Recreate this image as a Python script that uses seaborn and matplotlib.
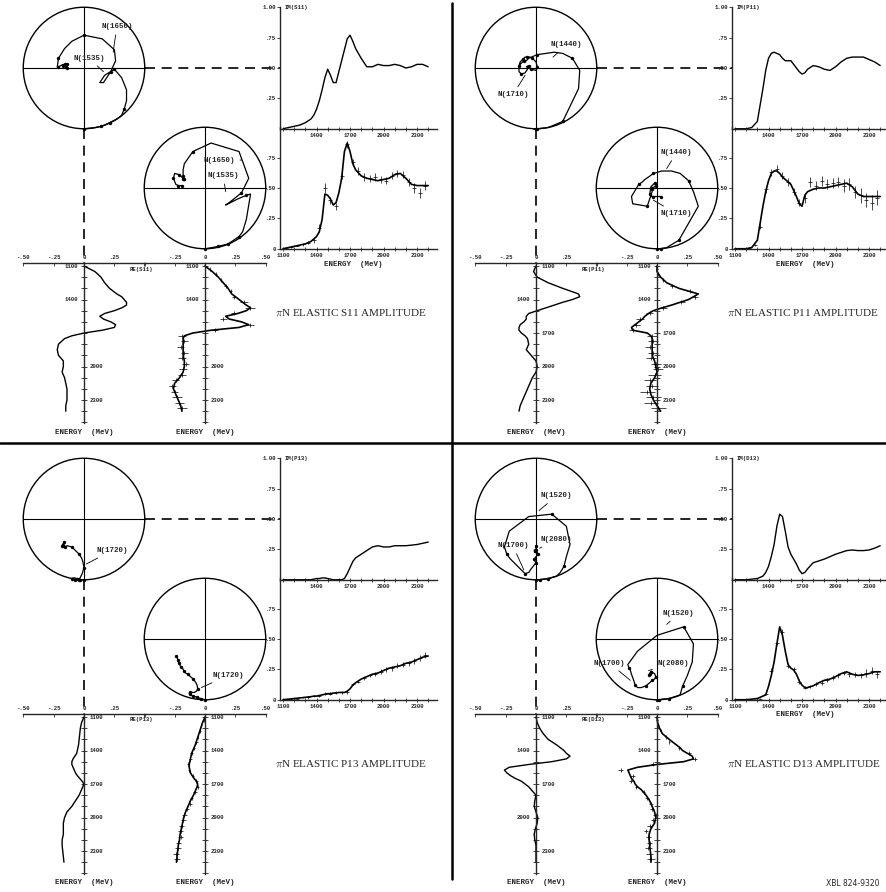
#!/usr/bin/env python3

import numpy as np
import seaborn as sns
import matplotlib.pyplot as plt
from matplotlib.patches import Circle
from matplotlib.lines import Line2D

# energy grid of the smooth amplitude curves (MeV)
energy = [1100, 1150, 1200, 1250, 1300, 1350,
          1375, 1400, 1425, 1450, 1475, 1500, 1525, 1550,
          1575, 1600, 1625, 1650, 1675, 1700, 1725, 1750,
          1800, 1850, 1900, 1950, 2000, 2050, 2100, 2150,
          2200, 2250, 2300, 2350, 2400]
# energies of the plotted single-energy points
energy_data = [1125, 1175, 1225, 1275, 1325, 1375, 1425, 1475, 1525,
               1575, 1625, 1675, 1725, 1775, 1825, 1875, 1925, 1975,
               2025, 2075, 2125, 2175, 2225, 2275, 2325, 2375]

# ---- S11 ----
s11_im_fit = [0.00, 0.01, 0.02, 0.03, 0.05, 0.08,
              0.11, 0.16, 0.23, 0.32, 0.42, 0.49, 0.44, 0.38, 0.38, 0.47,
              0.56, 0.65, 0.74, 0.77, 0.72, 0.66,
              0.58, 0.51, 0.51, 0.53, 0.52, 0.52, 0.53, 0.52, 0.50, 0.51,
              0.53, 0.53, 0.51]
s11_re_fit = [0.00, 0.09, 0.14, 0.17, 0.21, 0.27,
              0.31, 0.33, 0.35, 0.35, 0.31, 0.25, 0.17, 0.13, 0.16, 0.22,
              0.26, 0.25, 0.15, 0.00, -0.10, -0.16,
              -0.21, -0.22, -0.21, -0.17, -0.17, -0.18, -0.16, -0.15, -0.14,
              -0.14, -0.14, -0.15, -0.15]
s11_im_sol = [0.00, 0.01, 0.02, 0.03, 0.04, 0.06,
              0.08, 0.10, 0.14, 0.24, 0.45, 0.44, 0.41, 0.36, 0.38, 0.46,
              0.58, 0.80, 0.87, 0.80, 0.70, 0.65,
              0.60, 0.58, 0.57, 0.56, 0.57, 0.58, 0.61, 0.62, 0.58, 0.53,
              0.52, 0.52, 0.52]
s11_re_sol = [0.00, 0.06, 0.11, 0.15, 0.19, 0.22,
              0.25, 0.28, 0.31, 0.34, 0.375, 0.34, 0.27, 0.17, 0.20, 0.30,
              0.36, 0.28, 0.05, -0.10, -0.17, -0.18,
              -0.18, -0.18, -0.18, -0.17, -0.17, -0.18, -0.21, -0.25, -0.26,
              -0.24, -0.22, -0.20, -0.19]
s11_im_data = [0.005, 0.015, 0.025, 0.035, 0.05, 0.07, 0.17, 0.50, 0.40,
               0.35, 0.60, 0.86, 0.71, 0.64, 0.59, 0.58, 0.59, 0.57,
               0.56, 0.60, 0.62, 0.61, 0.55, 0.50, 0.46, 0.52]
s11_re_data = [0.04, 0.09, 0.13, 0.17, 0.21, 0.24, 0.32, 0.37, 0.24,
               0.15, 0.37, 0.08, -0.19, -0.17, -0.20, -0.17, -0.19, -0.16,
               -0.18, -0.19, -0.24, -0.27, -0.25, -0.23, -0.21, -0.19]
s11_err = [0.005, 0.005, 0.005, 0.01, 0.01, 0.02, 0.03, 0.04, 0.03,
           0.03, 0.03, 0.03, 0.03, 0.03, 0.03, 0.03, 0.03, 0.03,
           0.03, 0.03, 0.03, 0.03, 0.03, 0.04, 0.04, 0.04]

# ---- P11 ----
p11_im_fit = [0.00, 0.00, 0.00, 0.01, 0.06, 0.33,
              0.48, 0.58, 0.62, 0.63, 0.62, 0.61, 0.58, 0.56, 0.56, 0.56,
              0.53, 0.50, 0.47, 0.45, 0.46, 0.49,
              0.52, 0.51, 0.49, 0.48, 0.51, 0.55, 0.58, 0.59, 0.59, 0.59,
              0.57, 0.55, 0.52]
p11_re_fit = [0.00, -0.02, 0.01, 0.10, 0.22, 0.35,
              0.36, 0.30, 0.22, 0.15, 0.08, 0.01, -0.06, -0.08, -0.08, -0.10,
              -0.13, -0.14, -0.14, -0.12, -0.09, -0.07,
              -0.06, -0.08, -0.04, 0.00, 0.01, 0.00, -0.03, -0.05, -0.07,
              -0.09, -0.11, -0.13, -0.14]
p11_im_sol = [0.00, 0.00, 0.00, 0.01, 0.07, 0.35,
              0.47, 0.56, 0.62, 0.64, 0.64, 0.62, 0.59, 0.57, 0.55, 0.53,
              0.48, 0.43, 0.37, 0.35, 0.44, 0.47,
              0.49, 0.50, 0.50, 0.51, 0.52, 0.53, 0.54, 0.51, 0.45, 0.43,
              0.43, 0.43, 0.43]
p11_re_sol = [0.00, 0.00, 0.03, 0.08, 0.18, 0.34,
              0.30, 0.26, 0.19, 0.12, 0.04, -0.03, -0.07, -0.10, -0.12, -0.15,
              -0.18, -0.21, -0.20, -0.08, -0.05, -0.04,
              -0.04, -0.04, -0.04, -0.02, -0.01, 0.00, -0.02, -0.05, -0.06,
              -0.05, -0.03, 0.00, 0.03]
p11_im_data = [0.00, 0.00, 0.005, 0.03, 0.18, 0.49, 0.63, 0.66, 0.60,
               0.55, 0.47, 0.38, 0.42, 0.55, 0.52, 0.56, 0.53, 0.54,
               0.55, 0.52, 0.53, 0.47, 0.44, 0.40, 0.38, 0.42]
p11_re_data = [0.00, 0.01, 0.05, 0.12, 0.27, 0.31, 0.20, 0.05, -0.06,
               -0.14, -0.17, -0.20, -0.04, -0.03, -0.06, -0.03, -0.05, -0.01,
               0.01, -0.02, -0.06, -0.04, -0.08, -0.03, -0.05, 0.01]
p11_err = [0.005, 0.005, 0.005, 0.01, 0.02, 0.03, 0.03, 0.03, 0.03,
           0.03, 0.03, 0.03, 0.04, 0.04, 0.04, 0.04, 0.04, 0.04,
           0.04, 0.05, 0.05, 0.05, 0.06, 0.06, 0.06, 0.06]

# ---- P13 ----
p13_im_fit = [0.00, 0.00, 0.00, 0.00, 0.00, 0.00,
              0.005, 0.01, 0.01, 0.015, 0.015, 0.01, 0.005, 0.00, 0.00, 0.00,
              0.00, 0.01, 0.05, 0.10, 0.15, 0.18,
              0.21, 0.24, 0.27, 0.28, 0.27, 0.27, 0.28, 0.28, 0.28, 0.285,
              0.29, 0.30, 0.31]
p13_re_fit = [0.00, -0.02, -0.03, -0.035, -0.04, -0.045,
              -0.05, -0.055, -0.06, -0.075, -0.09, -0.10, -0.10, -0.09, -0.08,
              -0.07, -0.055, -0.035, -0.015, 0.00, -0.01, -0.02,
              -0.04, -0.07, -0.10, -0.14, -0.16, -0.17, -0.17, -0.17, -0.18,
              -0.18, -0.175, -0.17, -0.165]
p13_im_sol = [0.00, 0.005, 0.01, 0.015, 0.02, 0.025,
              0.03, 0.03, 0.035, 0.04, 0.045, 0.05, 0.05, 0.055, 0.055, 0.06,
              0.06, 0.06, 0.07, 0.09, 0.12, 0.14,
              0.17, 0.19, 0.21, 0.22, 0.24, 0.26, 0.27, 0.28, 0.30, 0.31,
              0.33, 0.35, 0.36]
p13_re_sol = [0.00, -0.02, -0.035, -0.05, -0.065, -0.08,
              -0.09, -0.10, -0.11, -0.115, -0.12, -0.125, -0.13, -0.13, -0.125,
              -0.12, -0.105, -0.09, -0.07, -0.06, -0.065, -0.075,
              -0.095, -0.12, -0.14, -0.16, -0.175, -0.185, -0.195, -0.205,
              -0.21, -0.22, -0.225, -0.23, -0.235]
p13_im_data = [0.00, 0.01, 0.01, 0.02, 0.02, 0.03, 0.03, 0.05, 0.05,
               0.06, 0.06, 0.06, 0.13, 0.15, 0.18, 0.20, 0.21, 0.23,
               0.25, 0.26, 0.28, 0.29, 0.30, 0.32, 0.34, 0.37]
p13_re_data = [-0.01, -0.03, -0.04, -0.06, -0.07, -0.09, -0.11, -0.12, -0.14,
               -0.13, -0.10, -0.07, -0.06, -0.08, -0.11, -0.12, -0.15, -0.17,
               -0.18, -0.19, -0.20, -0.20, -0.22, -0.22, -0.24, -0.23]
p13_err = [0.005, 0.005, 0.005, 0.005, 0.01, 0.01, 0.01, 0.01, 0.01,
           0.01, 0.01, 0.01, 0.01, 0.015, 0.015, 0.015, 0.015, 0.02,
           0.02, 0.02, 0.02, 0.02, 0.02, 0.025, 0.025, 0.025]

# ---- D13 ----
d13_im_fit = [0.00, 0.00, 0.00, 0.005, 0.01, 0.03,
              0.06, 0.11, 0.19, 0.29, 0.44, 0.54, 0.52, 0.40, 0.27, 0.21,
              0.17, 0.13, 0.08, 0.05, 0.06, 0.09,
              0.14, 0.155, 0.17, 0.19, 0.21, 0.225, 0.24, 0.245, 0.24, 0.24,
              0.245, 0.26, 0.28]
d13_re_fit = [0.00, 0.01, 0.03, 0.06, 0.10, 0.17,
              0.20, 0.23, 0.25, 0.28, 0.25, 0.13, -0.06, -0.22, -0.26, -0.24,
              -0.21, -0.17, -0.12, -0.09, -0.06, -0.04,
              0.00, -0.01, -0.015, 0.00, 0.015, 0.01, -0.005, -0.015, -0.01,
              0.00, 0.00, 0.00, 0.00]
d13_im_sol = [0.00, 0.00, 0.00, 0.005, 0.01, 0.03,
              0.04, 0.11, 0.20, 0.31, 0.46, 0.60, 0.53, 0.40, 0.29, 0.26,
              0.245, 0.21, 0.155, 0.12, 0.10, 0.10,
              0.115, 0.14, 0.16, 0.17, 0.19, 0.215, 0.23, 0.21, 0.20, 0.205,
              0.215, 0.23, 0.23]
d13_re_sol = [0.00, 0.005, 0.02, 0.045, 0.10, 0.16,
              0.19, 0.21, 0.25, 0.29, 0.30, 0.22, 0.00, -0.16, -0.24, -0.23,
              -0.22, -0.21, -0.19, -0.18, -0.16, -0.13,
              -0.09, -0.06, -0.04, -0.02, -0.01, -0.02, -0.05, -0.065, -0.065,
              -0.06, -0.055, -0.05, -0.05]
d13_im_data = [0.00, 0.00, 0.00, 0.00, 0.01, 0.05, 0.24, 0.47, 0.56,
               0.28, 0.25, 0.15, 0.10, 0.11, 0.13, 0.14, 0.16, 0.18,
               0.20, 0.22, 0.21, 0.21, 0.20, 0.22, 0.24, 0.21]
d13_re_data = [0.00, 0.01, 0.03, 0.07, 0.10, 0.18, 0.26, 0.31, -0.03,
               -0.30, -0.20, -0.21, -0.17, -0.11, -0.08, -0.05, -0.04, -0.01,
               -0.03, -0.06, -0.09, -0.07, -0.06, -0.07, -0.06, -0.05]
d13_err = [0.005, 0.005, 0.005, 0.005, 0.005, 0.01, 0.02, 0.02, 0.02,
           0.02, 0.02, 0.02, 0.015, 0.015, 0.015, 0.015, 0.015, 0.02,
           0.02, 0.02, 0.02, 0.02, 0.02, 0.03, 0.03, 0.03]

# resonance labels: (text, text position, curve point) in Argand coordinates
s11_notes_top = [("N(1650)", (0.27, 0.84), (0.24, 0.63)),
                 ("N(1535)", (0.04, 0.58), (0.16, 0.47))]
s11_notes_low = [("N(1650)", (0.12, 0.73), (0.30, 0.73)),
                 ("N(1535)", (0.15, 0.60), (0.17, 0.47))]
p11_notes_top = [("N(1440)", (0.25, 0.69), (0.14, 0.59)),
                 ("N(1710)", (-0.19, 0.28), (-0.09, 0.44))]
p11_notes_low = [("N(1440)", (0.16, 0.79), (0.08, 0.66)),
                 ("N(1710)", (0.16, 0.29), (-0.03, 0.40))]
p13_notes_top = [("N(1720)", (0.23, 0.24), (0.02, 0.13))]
p13_notes_low = [("N(1720)", (0.19, 0.20), (-0.03, 0.10))]
d13_notes_top = [("N(1520)", (0.17, 0.69), (0.025, 0.57)),
                 ("N(1700)", (-0.19, 0.28), (-0.10, 0.08)),
                 ("N(2080)", (0.165, 0.33), (0.03, 0.26))]
d13_notes_low = [("N(1520)", (0.175, 0.71), (0.08, 0.62)),
                 ("N(1700)", (-0.39, 0.30), (-0.22, 0.16)),
                 ("N(2080)", (0.13, 0.30), (-0.07, 0.24))]

W, H = 886, 892
S = 121.5            # pixels per unit of amplitude
K = 0.1117           # pixels per MeV
E_LO = 1100 - 3 / K
E_HI_IM = 1100 + 154 / K
E_HI_RE = 1100 + 157 / K
SMALL = 4.1
LABEL = 5.4

sns.set_style("white")
plt.rcParams["font.family"] = ["Liberation Mono", "DejaVu Sans Mono"]
plt.rcParams["font.weight"] = "bold"
plt.rcParams["mathtext.fontset"] = "cm"
plt.rcParams["axes.linewidth"] = 1.0

fig = plt.figure(figsize=(W / 100, H / 100), dpi=100)


def px_axes(x0, y0, x1, y1):
    ax = fig.add_axes([x0 / W, 1 - y1 / H, (x1 - x0) / W, (y1 - y0) / H])
    ax.patch.set_alpha(0)
    return ax


def px_text(x, y, s, **kw):
    fig.text(x / W, 1 - y / H, s, **kw)


def argand(cx, cy, re, im, notes, connectors=False):
    ax = px_axes(cx - 0.56 * S, cy - 0.56 * S, cx + 0.56 * S, cy + 0.56 * S)
    ax.set_xlim(-0.56, 0.56)
    ax.set_ylim(-0.06, 1.06)
    ax.axis("off")
    ax.add_patch(Circle((0, 0.5), 0.5, fill=False, lw=1.0, ec="k"))
    ax.plot([-0.5, 0.5], [0.5, 0.5], color="k", lw=0.8)
    ax.plot([0, 0], [0, 1], color="k", lw=0.8)
    sns.lineplot(x=re, y=im, sort=False, estimator=None, color="k",
                 lw=0.9, ax=ax)
    marks = [e % 100 == 0 for e in energy]
    sns.scatterplot(x=np.array(re)[marks], y=np.array(im)[marks], s=6,
                    color="k", linewidth=0, ax=ax)
    for label, txt, pt in notes:
        ax.annotate(label, xy=pt, xytext=txt, ha="center", va="center",
                    fontsize=LABEL,
                    arrowprops=dict(arrowstyle="-", lw=0.6, color="k",
                                    shrinkA=1, shrinkB=0))
    if connectors:
        dash = (0, (6, 4))
        ax.plot([0.5, 196 / S], [0.5, 0.5], color="k", lw=1.2, ls=dash,
                clip_on=False)
        ax.plot([0, 0], [0, -(263 - 128.75) / S], color="k", lw=1.2,
                ls=dash, clip_on=False)


def im_axes(dx, y0, im, lower, wave=None, data=None):
    ax = px_axes(280 + dx, y0 - S, 437 + dx, y0)
    ax.set_xlim(E_LO, E_HI_IM)
    ax.set_ylim(0, 1)
    sns.despine(ax=ax)
    ticks = list(range(1100, 2500, 100))
    shown = [1100, 1400, 1700, 2000, 2300] if lower else [1400, 1700, 2000, 2300]
    ax.set_xticks(ticks)
    ax.set_xticklabels([str(t) if t in shown else "" for t in ticks])
    ax.tick_params(axis="x", bottom=True, direction="inout", length=3,
                   width=0.6, labelsize=SMALL, pad=1.5)
    if lower:
        ax.set_yticks([0, 0.25, 0.5, 0.75])
        ax.set_yticklabels(["0", ".25", ".50", ".75"])
    else:
        ax.set_yticks([0.25, 0.5, 0.75, 1.0])
        ax.set_yticklabels([".25", ".50", ".75", "1.00"])
        ax.text(0.03, 1.0, f"IM({wave})", transform=ax.transAxes,
                va="center", ha="left", fontsize=SMALL)
    ax.tick_params(axis="y", left=True, direction="out", length=2,
                   width=0.6, labelsize=SMALL, pad=1)
    sns.lineplot(x=energy, y=im, estimator=None, color="k",
                 lw=1.2 if data else 1.0, ax=ax)
    if data:
        ax.errorbar(energy_data, data[0], yerr=data[1], fmt="_", ms=2.5,
                    mew=0.5, elinewidth=0.5, color="k", capsize=0)


def re_axes(xc, dy, re, sides, top_labels, data=None):
    ax = px_axes(xc - S / 2, 263 + dy, xc + S / 2, 423 + dy)
    ax.set_xlim(-0.5, 0.5)
    ax.set_ylim(E_HI_RE, E_LO)
    ax.spines["bottom"].set_visible(False)
    ax.spines["right"].set_visible(False)
    ax.spines["left"].set_position(("data", 0))
    ax.set_xticks([-0.5, -0.25, 0, 0.25, 0.5])
    ax.set_xticklabels(top_labels)
    ax.xaxis.tick_top()
    ax.tick_params(axis="x", top=True, bottom=False, direction="in",
                   length=2.5, width=0.6, labelsize=SMALL, pad=2)
    ax.set_yticks(range(1100, 2600, 100))
    ax.set_yticklabels([])
    ax.tick_params(axis="y", left=True, direction="inout", length=5,
                   width=0.6)
    for e, side in zip([1100, 1400, 1700, 2000, 2300], sides):
        if side == "-":
            continue
        off = -4 if side == "L" else 4
        ax.annotate(str(e), xy=(0, e), xytext=(off, 0),
                    textcoords="offset points", va="center",
                    ha="right" if side == "L" else "left", fontsize=SMALL)
    sns.lineplot(x=re, y=energy, sort=False, orient="y", estimator=None,
                 color="k", lw=1.2 if data else 1.0, ax=ax)
    if data:
        ax.errorbar(data[0], energy_data, xerr=data[1], fmt="|", ms=2.5,
                    mew=0.5, elinewidth=0.5, color="k", capsize=0)


panels = [
    dict(wave="S11", dx=0, dy=0,
         fit=(s11_re_fit, s11_im_fit), sol=(s11_re_sol, s11_im_sol),
         data=(s11_re_data, s11_im_data, s11_err),
         notes=(s11_notes_top, s11_notes_low),
         sides=("LL-RR", "LL-RR"), energy_label=True),
    dict(wave="P11", dx=452, dy=0,
         fit=(p11_re_fit, p11_im_fit), sol=(p11_re_sol, p11_im_sol),
         data=(p11_re_data, p11_im_data, p11_err),
         notes=(p11_notes_top, p11_notes_low),
         sides=("RLRRR", "LLRRR"), energy_label=True),
    dict(wave="P13", dx=0, dy=451,
         fit=(p13_re_fit, p13_im_fit), sol=(p13_re_sol, p13_im_sol),
         data=(p13_re_data, p13_im_data, p13_err),
         notes=(p13_notes_top, p13_notes_low),
         sides=("RRRRR", "RRRRR"), energy_label=False),
    dict(wave="D13", dx=452, dy=451,
         fit=(d13_re_fit, d13_im_fit), sol=(d13_re_sol, d13_im_sol),
         data=(d13_re_data, d13_im_data, d13_err),
         notes=(d13_notes_top, d13_notes_low),
         sides=("RLRLR", "LLRRR"), energy_label=True),
]

for p in panels:
    dx, dy = p["dx"], p["dy"]
    re_fit, im_fit = p["fit"]
    re_sol, im_sol = p["sol"]
    re_data, im_data, err = p["data"]

    # Argand diagrams
    argand(84 + dx, 68 + dy, re_fit, im_fit, p["notes"][0], connectors=True)
    argand(205 + dx, 188 + dy, re_sol, im_sol, p["notes"][1])

    # imaginary parts against energy
    im_axes(dx, 128.75 + dy, im_fit, lower=False, wave=p["wave"])
    im_axes(dx, 248.75 + dy, im_sol, lower=True, data=(im_data, err))

    # real parts against energy (energy downwards)
    re_axes(84 + dx, dy, re_fit, p["sides"][0],
            ["-.50", "-.25", "0", ".25", ""])
    re_axes(205 + dx, dy, re_sol, p["sides"][1],
            ["", "-.25", "0", ".25", ".50"], data=(re_data, err))

    px_text(141 + dx, 269 + dy, f"RE({p['wave']})", ha="center",
            va="center", fontsize=SMALL)
    px_text(84 + dx, 432 + dy, "ENERGY  (MeV)", ha="center", va="center",
            fontsize=LABEL)
    px_text(205 + dx, 432 + dy, "ENERGY  (MeV)", ha="center", va="center",
            fontsize=LABEL)
    if p["energy_label"]:
        px_text(353 + dx, 264 + dy, "ENERGY  (MeV)", ha="center",
                va="center", fontsize=LABEL)
    px_text(275 + dx, 313 + dy, rf"$\pi$N ELASTIC {p['wave']} AMPLITUDE",
            ha="left", va="center", fontsize=8, fontweight="normal",
            family="Liberation Serif")

# frame dividing the four amplitudes
fig.add_artist(Line2D([0, 1], [1 - 443 / H, 1 - 443 / H],
                      transform=fig.transFigure, color="k", lw=1.8))
fig.add_artist(Line2D([452 / W, 452 / W], [1 - 3 / H, 1 - 879 / H],
                      transform=fig.transFigure, color="k", lw=1.8))

px_text(880, 884, "XBL 824-9320", ha="right", va="center", fontsize=5.5,
        fontweight="normal", family="DejaVu Sans")

fig.savefig("out.png", dpi=100, facecolor="white")
